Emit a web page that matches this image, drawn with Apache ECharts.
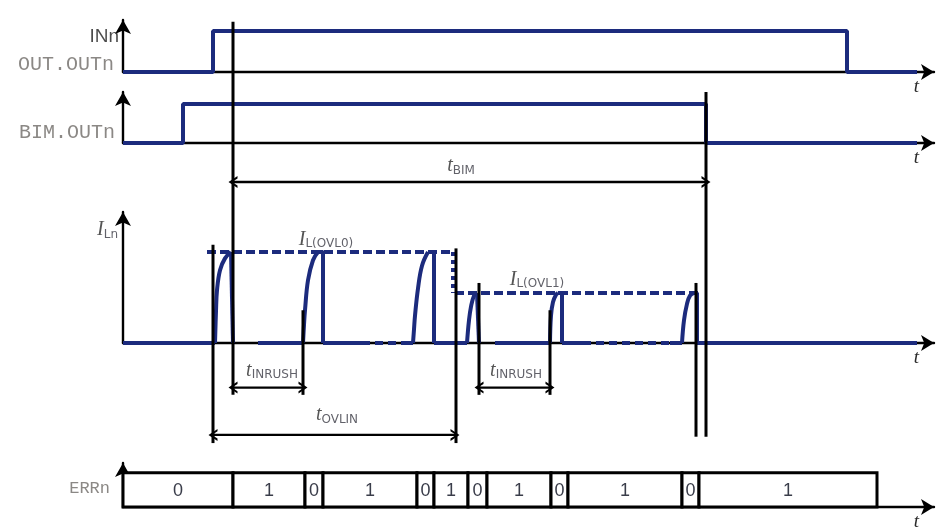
<!DOCTYPE html>
<html><head><meta charset="utf-8">
<script src="https://cdn.jsdelivr.net/npm/echarts@6/dist/echarts.min.js"></script>
<style>html,body{margin:0;padding:0;background:#fff}#c{width:941px;height:531px}</style>
</head><body><div id="c"></div>
<script>
// ---------- data (time units, levels) ----------
const timeMax = 811;
const outSignal = [[0,0],[90,0],[90,1],[724,1],[724,0],[794,0]];
const bimSignal = [[0,0],[60,0],[60,1],[583,1],[583,0],[794,0]];
const ovl0Level = 1.0;
const ovl1Level = 0.55;
const ovl0Span = [84, 332];
const ovl1Span = [332, 577];
const pulseRises = [
  [[92,0],[93,0.35],[94,0.58],[97,0.8],[102,0.93],[108,1]],
  [[180,0],[181,0.2],[182,0.36],[185,0.69],[190,0.91],[195,1]],
  [[290,0],[291,0.15],[292,0.3],[295,0.6],[299,0.85],[305,1]],
  [[344,0],[346,0.25],[348,0.4],[351,0.52],[354,0.55]],
  [[427,0],[428,0.3],[430,0.45],[433,0.53],[435,0.55]],
  [[559,0],[561,0.25],[564,0.43],[567,0.52],[571,0.55]]
];
const pulseTops = [
  [[108,1],[110,1],[110,0]],
  [[195,1],[200,1],[200,0]],
  [[305,1],[311,1],[311,0]],
  [[354,0.55],[356,0.55],[356,0]],
  [[435,0.55],[439,0.55],[439,0]],
  [[571,0.55],[574,0.55],[574,0]]
];
const baseSolid = [[0,92],[135,180],[200,239],[284,290],[311,344],[372,427],[439,460],[547,559],[574,794]];
const baseDashed = [[239,284],[460,547]];
// vertical timing markers: [time, top, bottom] in current-row units
const markers = [[90,1.08,-1.10],[110,3.53,-0.57],[180,0.36,-0.57],[333,1.04,-1.10],[356,0.66,-0.57],[427,0.36,-0.57],[573,0.66,-1.03],[583,2.76,-1.03]];
// dimension spans: [from, to, level]
const spanBIM = [110, 583, 1.77];
const spanInrush1 = [110, 180, -0.49];
const spanInrush2 = [356, 427, -0.49];
const spanOVLIN = [90, 332, -1.01];
// ERRn segments: [from, to, value]
const errSegments = [[0,110,0],[110,182,1],[182,200,0],[200,294,1],[294,311,0],[311,345,1],[345,364,0],[364,428,1],[428,445,0],[445,559,1],[559,576,0],[576,754,1]];
const errHeight = 1;

// ---------- styles ----------
const BLUE = '#1c2b7d';
const chevron = 'path://M0,10 L5,0 L10,10 L8,10 L5,3.8 L2,10 Z';
const rich = {
  it: {fontFamily:'Liberation Serif', fontStyle:'italic', fontSize:20, color:'#2a2a2a'},
  sub: {fontFamily:'DejaVu Sans', fontSize:12, color:'#3a3a44', padding:[10,0,0,0]}
};

function xAx(gi){
  return {type:'value', gridIndex:gi, min:0, max:timeMax, show:true,
    axisLine:{show:true, onZero:false, symbol:['none','arrow'], symbolSize:[12,13], lineStyle:{color:'#000', width:2.4}},
    axisTick:{show:false}, axisLabel:{show:false}, splitLine:{show:false},
    name:'t', nameLocation:'end', nameGap:-15,
    nameTextStyle:{fontFamily:'Liberation Serif', fontStyle:'italic', fontSize:19, color:'#2a2a2a', align:'right', verticalAlign:'top', padding:[5,0,0,0]}};
}
function yAx(gi, max){
  return {type:'value', gridIndex:gi, min:0, max:max, show:true,
    axisLine:{show:true, symbol:['none','arrow'], symbolSize:[12,14], lineStyle:{color:'#000', width:2.4}},
    axisTick:{show:false}, axisLabel:{show:false}, splitLine:{show:false}};
}
function line(gi, data, opts){
  return Object.assign({type:'line', xAxisIndex:gi, yAxisIndex:gi, data:data, showSymbol:false, symbol:'none',
    animation:false, silent:true, clip:false, z:3,
    lineStyle:{color:BLUE, width:4}}, opts||{});
}
function textAt(gi, x, y, text, pos, dist, style){
  return {type:'scatter', xAxisIndex:gi, yAxisIndex:gi, data:[[x,y]], symbolSize:0, clip:false, silent:true, animation:false, z:6,
    label:Object.assign({show:true, position:pos, distance:dist, formatter:text, rich:rich}, style||{})};
}
function spanSeries(s){
  return line(2, [
    {value:[s[0],s[2]], symbol:chevron, symbolRotate:90, symbolSize:[12,9]},
    {value:[s[1],s[2]], symbol:chevron, symbolRotate:-90, symbolSize:[12,9]}
  ], {showSymbol:true, symbol:chevron, lineStyle:{color:'#000', width:2.4}, itemStyle:{color:'#000'}, z:5});
}

const series = [];
series.push(line(0, outSignal));
series.push(line(1, bimSignal));
baseSolid.forEach(s => series.push(line(2, [[s[0],0],[s[1],0]])));
baseDashed.forEach(s => series.push(line(2, [[s[0],0],[s[1],0]], {lineStyle:{color:BLUE, width:4, type:[8,5]}})));
pulseRises.forEach(p => series.push(line(2, p, {smooth:0.4})));
pulseTops.forEach(p => series.push(line(2, p)));
series.push(line(2, [[ovl0Span[0],ovl0Level],[ovl0Span[1]-2,ovl0Level]], {lineStyle:{color:BLUE, width:4, type:[9,4]}}));
series.push(line(2, [[ovl0Span[1]-2,ovl0Level],[ovl0Span[1]-2,ovl1Level]], {lineStyle:{color:BLUE, width:4, type:[4,4]}}));
series.push(line(2, [[ovl1Span[0],ovl1Level],[ovl1Span[1],ovl1Level]], {lineStyle:{color:BLUE, width:4, type:[9,4]}}));
markers.forEach(m => series.push(line(2, [[m[0],m[1]],[m[0],m[2]]], {lineStyle:{color:'#000', width:3}, z:5})));
[spanBIM, spanInrush1, spanInrush2, spanOVLIN].forEach(s => series.push(spanSeries(s)));

// ERRn boxes
series.push({type:'custom', xAxisIndex:3, yAxisIndex:3, data:errSegments, animation:false, silent:true, z:4,
  renderItem:function(params, api){
    const a = api.coord([api.value(0), 0]);
    const b = api.coord([api.value(1), errHeight]);
    return {type:'group', children:[
      {type:'rect', shape:{x:a[0], y:b[1], width:b[0]-a[0], height:a[1]-b[1]}, style:{fill:'#fff', stroke:'#000', lineWidth:3}},
      {type:'text', style:{text:String(api.value(2)), x:(a[0]+b[0])/2, y:(a[1]+b[1])/2+1, align:'center', verticalAlign:'middle', fontFamily:'Liberation Sans', fontSize:18, fill:'#3a3d4a'}}
    ]};
  }});

// text labels
const mono = {fontFamily:'Liberation Mono', fontSize:20, color:'#6e6a66'};
series.push(textAt(0, 0, 0.85, 'INn', 'left', 4, {fontFamily:'Liberation Sans', fontSize:19, color:'#1e1e1e'}));
series.push(textAt(0, 0, 0.17, 'OUT.OUTn', 'left', 9, mono));
series.push(textAt(1, 0, 0.26, 'BIM.OUTn', 'left', 8, mono));
series.push(textAt(3, 0, 0.54, 'ERRn', 'left', 13, Object.assign({}, mono, {fontSize:17})));
series.push(textAt(2, 0, 1.24, '{it|I}{sub|Ln}', 'left', 5));
series.push(textAt(2, 203, 1.14, '{it|I}{sub|L(OVL0)}', 'inside', 0));
series.push(textAt(2, 414, 0.70, '{it|I}{sub|L(OVL1)}', 'inside', 0));
series.push(textAt(2, 338, 1.95, '{it|t}{sub|BIM}', 'inside', 0));
series.push(textAt(2, 149, -0.30, '{it|t}{sub|INRUSH}', 'inside', 0));
series.push(textAt(2, 393, -0.30, '{it|t}{sub|INRUSH}', 'inside', 0));
series.push(textAt(2, 214, -0.79, '{it|t}{sub|OVLIN}', 'inside', 0));

const chart = echarts.init(document.getElementById('c'), null, {renderer:'canvas'});
chart.setOption({
  animation:false,
  backgroundColor:'#fff',
  grid:[
    {left:123, right:7, top:20, height:52},
    {left:123, right:7, top:92, height:51},
    {left:123, right:7, top:212, height:131},
    {left:123, right:7, top:463, height:50}
  ],
  xAxis:[xAx(0), xAx(1), xAx(2), xAx(3)],
  yAxis:[yAx(0,1.27), yAx(1,1.31), yAx(2,1.44), yAx(3,1.28)],
  series:series
});
</script></body></html>
